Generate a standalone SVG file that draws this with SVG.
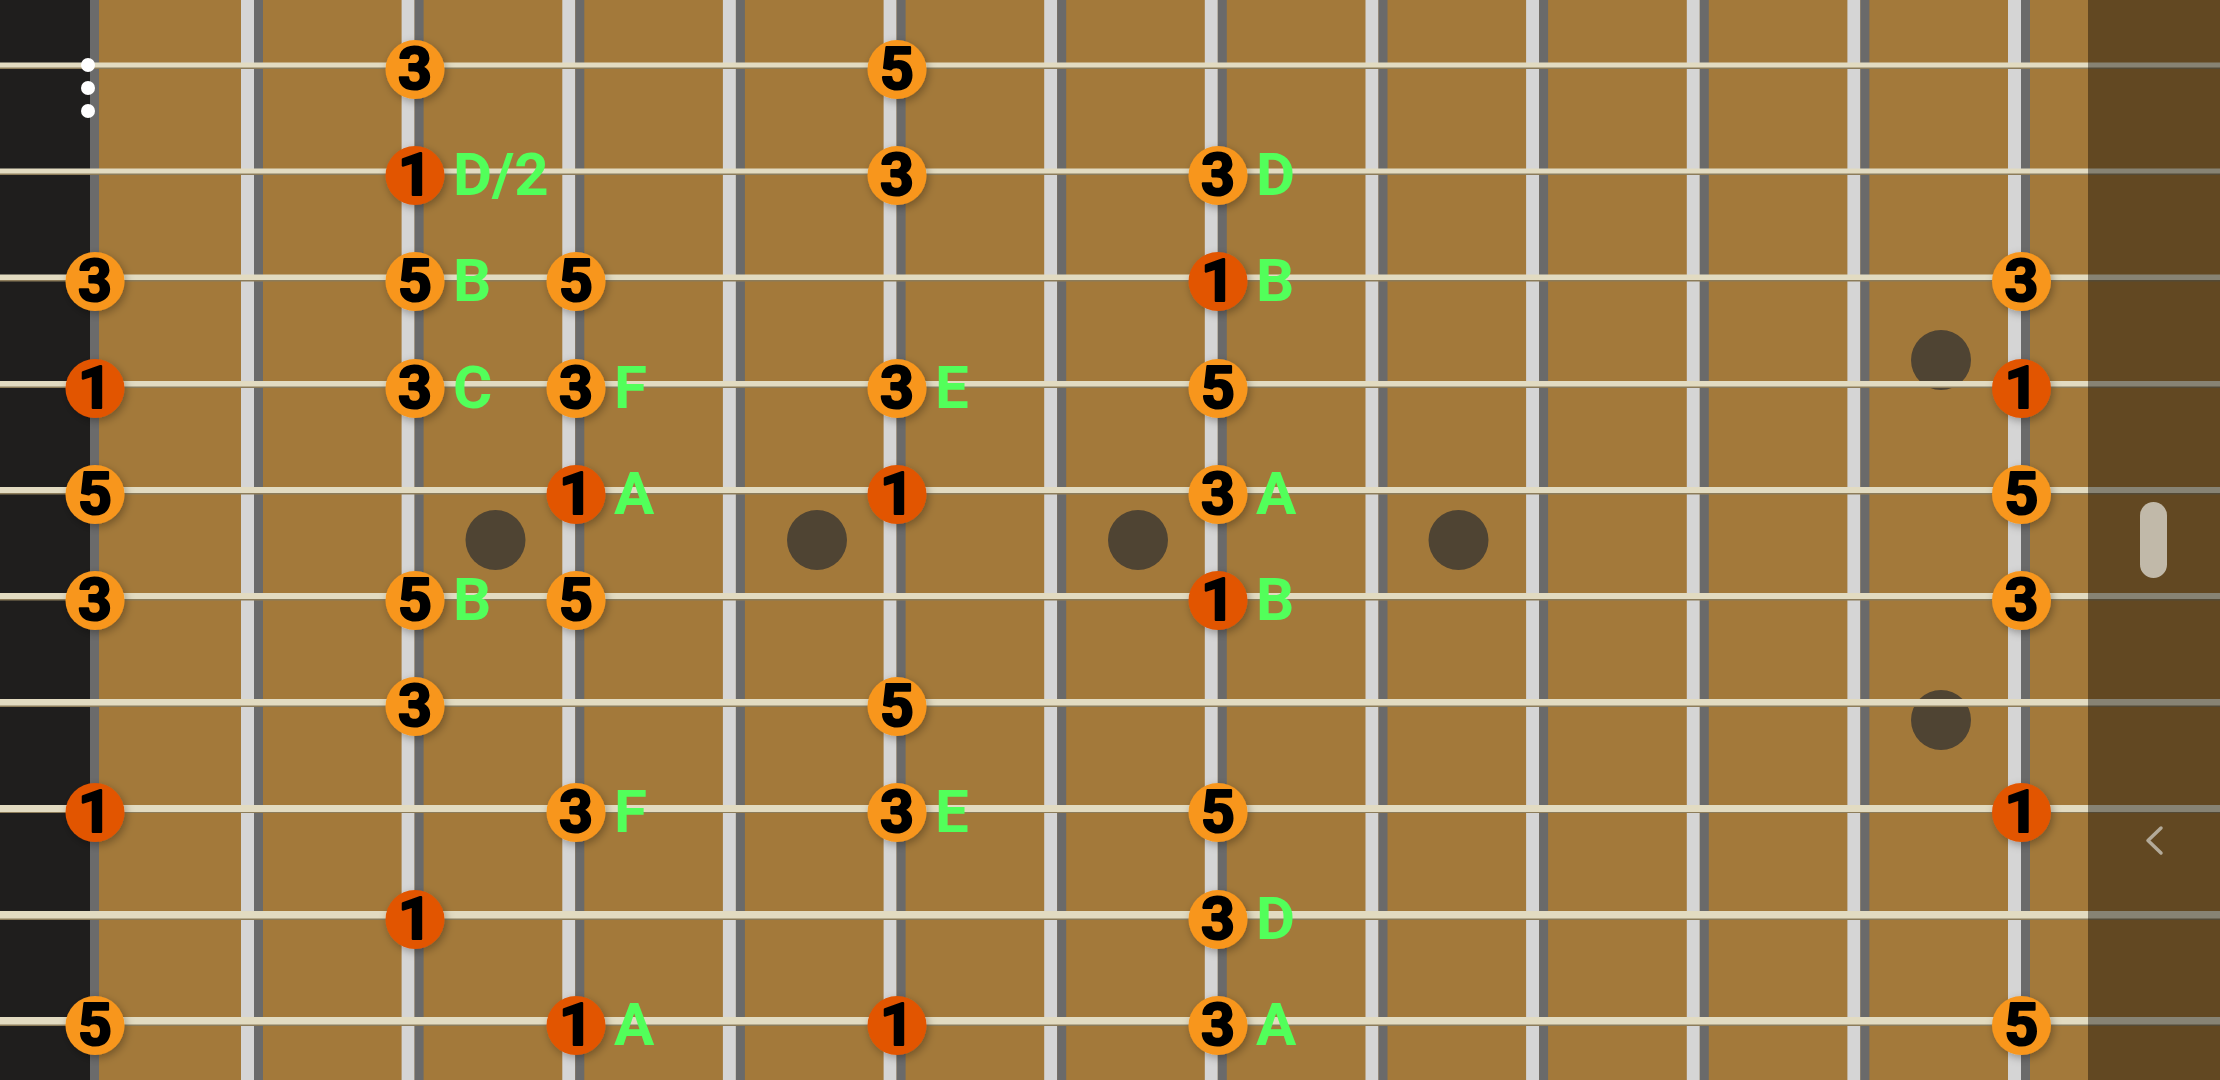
<svg xmlns="http://www.w3.org/2000/svg" width="2220" height="1080" viewBox="0 0 2220 1080">
<defs>
<style>
.board{fill:#a3793a}
.nut{fill:#1f1e1d}
.nutedge{fill:#6b6b6b}
.fl{fill:#d5d5d5}
.fd{fill:#6a6a6a}
.mark{fill:#4f4433}
.str{fill:#e2dbc1}
.strs{fill:#8c7c5a}
.o{fill:#f8961b;filter:url(#sh)}
.r{fill:#e25400;filter:url(#sh)}
.num{font-family:Roboto,"Liberation Sans",sans-serif;font-weight:700;font-size:59px;fill:#000;stroke:#000;stroke-width:2.2px;stroke-linejoin:round;text-anchor:middle}
.lbl{font-family:Roboto,"Liberation Sans",sans-serif;font-weight:700;font-size:60px;fill:#52ff5a}
.menu{fill:#ffffff}
</style>
<filter id="sh" x="-40%" y="-40%" width="180%" height="180%">
<feDropShadow dx="2" dy="3" stdDeviation="4" flood-color="#000" flood-opacity="0.3"/>
</filter>
</defs>

<g id="board">
<rect class="board" x="0" y="0" width="2220" height="1080"/>
<rect class="nut" x="0" y="0" width="90" height="1080"/>
<rect class="nutedge" x="90" y="0" width="9" height="1080"/>
</g>

<g id="frets">
<rect class="fl" x="241" y="0" width="13" height="1080"/><rect class="fd" x="254" y="0" width="9" height="1080"/>
<rect class="fl" x="401.6" y="0" width="13" height="1080"/><rect class="fd" x="414.6" y="0" width="9" height="1080"/>
<rect class="fl" x="562.3" y="0" width="13" height="1080"/><rect class="fd" x="575.3" y="0" width="9" height="1080"/>
<rect class="fl" x="722.9" y="0" width="13" height="1080"/><rect class="fd" x="735.9" y="0" width="9" height="1080"/>
<rect class="fl" x="883.6" y="0" width="13" height="1080"/><rect class="fd" x="896.6" y="0" width="9" height="1080"/>
<rect class="fl" x="1044.2" y="0" width="13" height="1080"/><rect class="fd" x="1057.2" y="0" width="9" height="1080"/>
<rect class="fl" x="1204.8" y="0" width="13" height="1080"/><rect class="fd" x="1217.8" y="0" width="9" height="1080"/>
<rect class="fl" x="1365.5" y="0" width="13" height="1080"/><rect class="fd" x="1378.5" y="0" width="9" height="1080"/>
<rect class="fl" x="1526.1" y="0" width="13" height="1080"/><rect class="fd" x="1539.1" y="0" width="9" height="1080"/>
<rect class="fl" x="1686.8" y="0" width="13" height="1080"/><rect class="fd" x="1699.8" y="0" width="9" height="1080"/>
<rect class="fl" x="1847.4" y="0" width="13" height="1080"/><rect class="fd" x="1860.4" y="0" width="9" height="1080"/>
<rect class="fl" x="2008" y="0" width="13" height="1080"/><rect class="fd" x="2021" y="0" width="9" height="1080"/>
</g>

<g id="markers">
<circle class="mark" cx="495.5" cy="540" r="30"/>
<circle class="mark" cx="817" cy="540" r="30"/>
<circle class="mark" cx="1138" cy="540" r="30"/>
<circle class="mark" cx="1458.5" cy="540" r="30"/>
<circle class="mark" cx="1941" cy="360" r="30"/>
<circle class="mark" cx="1941" cy="720" r="30"/>
</g>

<g id="strings">
<rect class="strs" x="0" y="63" width="2220" height="6"/><rect class="str" x="0" y="62.5" width="2220" height="5"/>
<rect class="strs" x="0" y="169" width="2220" height="6"/><rect class="str" x="0" y="168.5" width="2220" height="5"/>
<rect class="strs" x="0" y="275" width="2220" height="6.5"/><rect class="str" x="0" y="274.5" width="2220" height="5.5"/>
<rect class="strs" x="0" y="381.5" width="2220" height="6.5"/><rect class="str" x="0" y="381" width="2220" height="5.5"/>
<rect class="strs" x="0" y="487.5" width="2220" height="7"/><rect class="str" x="0" y="487" width="2220" height="6"/>
<rect class="strs" x="0" y="593.5" width="2220" height="7"/><rect class="str" x="0" y="593" width="2220" height="6"/>
<rect class="strs" x="0" y="699.5" width="2220" height="7.5"/><rect class="str" x="0" y="699" width="2220" height="6.5"/>
<rect class="strs" x="0" y="805" width="2220" height="8"/><rect class="str" x="0" y="805" width="2220" height="7"/>
<rect class="strs" x="0" y="911.5" width="2220" height="8.5"/><rect class="str" x="0" y="911" width="2220" height="7.5"/>
<rect class="strs" x="0" y="1017.5" width="2220" height="8.5"/><rect class="str" x="0" y="1017" width="2220" height="7.5"/>
</g>

<g id="menu">
<circle class="menu" cx="88" cy="65" r="7"/>
<circle class="menu" cx="88" cy="88" r="7"/>
<circle class="menu" cx="88" cy="111" r="7"/>
</g>

<g id="notes">
<g id="s1-f2" transform="translate(415,65)"><circle class="o" cx="0" cy="4.5" r="29.5"/><text class="num" x="0" y="24">3</text></g>
<g id="s1-f5" transform="translate(897,65)"><circle class="o" cx="0" cy="4.5" r="29.5"/><text class="num" x="0" y="24">5</text></g>

<g id="s2-f2" transform="translate(415,171)"><circle class="r" cx="0" cy="4.5" r="29.5"/><text class="num" x="0" y="24">1</text><text class="lbl" x="38" y="24">D/2</text></g>
<g id="s2-f5" transform="translate(897,171)"><circle class="o" cx="0" cy="4.5" r="29.5"/><text class="num" x="0" y="24">3</text></g>
<g id="s2-f7" transform="translate(1218,171)"><circle class="o" cx="0" cy="4.5" r="29.5"/><text class="num" x="0" y="24">3</text><text class="lbl" x="38" y="24">D</text></g>

<g id="s3-f0" transform="translate(95,277)"><circle class="o" cx="0" cy="4.5" r="29.5"/><text class="num" x="0" y="24">3</text></g>
<g id="s3-f2" transform="translate(415,277)"><circle class="o" cx="0" cy="4.5" r="29.5"/><text class="num" x="0" y="24">5</text><text class="lbl" x="38" y="24">B</text></g>
<g id="s3-f3" transform="translate(576,277)"><circle class="o" cx="0" cy="4.5" r="29.5"/><text class="num" x="0" y="24">5</text></g>
<g id="s3-f7" transform="translate(1218,277)"><circle class="r" cx="0" cy="4.5" r="29.5"/><text class="num" x="0" y="24">1</text><text class="lbl" x="38" y="24">B</text></g>
<g id="s3-f12" transform="translate(2021.5,277)"><circle class="o" cx="0" cy="4.5" r="29.5"/><text class="num" x="0" y="24">3</text></g>

<g id="s4-f0" transform="translate(95,384)"><circle class="r" cx="0" cy="4.5" r="29.5"/><text class="num" x="0" y="24">1</text></g>
<g id="s4-f2" transform="translate(415,384)"><circle class="o" cx="0" cy="4.5" r="29.5"/><text class="num" x="0" y="24">3</text><text class="lbl" x="38" y="24">C</text></g>
<g id="s4-f3" transform="translate(576,384)"><circle class="o" cx="0" cy="4.5" r="29.5"/><text class="num" x="0" y="24">3</text><text class="lbl" x="38" y="24">F</text></g>
<g id="s4-f5" transform="translate(897,384)"><circle class="o" cx="0" cy="4.5" r="29.5"/><text class="num" x="0" y="24">3</text><text class="lbl" x="38" y="24">E</text></g>
<g id="s4-f7" transform="translate(1218,384)"><circle class="o" cx="0" cy="4.5" r="29.5"/><text class="num" x="0" y="24">5</text></g>
<g id="s4-f12" transform="translate(2021.5,384)"><circle class="r" cx="0" cy="4.5" r="29.5"/><text class="num" x="0" y="24">1</text></g>

<g id="s5-f0" transform="translate(95,490)"><circle class="o" cx="0" cy="4.5" r="29.5"/><text class="num" x="0" y="24">5</text></g>
<g id="s5-f3" transform="translate(576,490)"><circle class="r" cx="0" cy="4.5" r="29.5"/><text class="num" x="0" y="24">1</text><text class="lbl" x="38" y="24">A</text></g>
<g id="s5-f5" transform="translate(897,490)"><circle class="r" cx="0" cy="4.5" r="29.5"/><text class="num" x="0" y="24">1</text></g>
<g id="s5-f7" transform="translate(1218,490)"><circle class="o" cx="0" cy="4.5" r="29.5"/><text class="num" x="0" y="24">3</text><text class="lbl" x="38" y="24">A</text></g>
<g id="s5-f12" transform="translate(2021.5,490)"><circle class="o" cx="0" cy="4.5" r="29.5"/><text class="num" x="0" y="24">5</text></g>

<g id="s6-f0" transform="translate(95,596)"><circle class="o" cx="0" cy="4.5" r="29.5"/><text class="num" x="0" y="24">3</text></g>
<g id="s6-f2" transform="translate(415,596)"><circle class="o" cx="0" cy="4.5" r="29.5"/><text class="num" x="0" y="24">5</text><text class="lbl" x="38" y="24">B</text></g>
<g id="s6-f3" transform="translate(576,596)"><circle class="o" cx="0" cy="4.5" r="29.5"/><text class="num" x="0" y="24">5</text></g>
<g id="s6-f7" transform="translate(1218,596)"><circle class="r" cx="0" cy="4.5" r="29.5"/><text class="num" x="0" y="24">1</text><text class="lbl" x="38" y="24">B</text></g>
<g id="s6-f12" transform="translate(2021.5,596)"><circle class="o" cx="0" cy="4.5" r="29.5"/><text class="num" x="0" y="24">3</text></g>

<g id="s7-f2" transform="translate(415,702)"><circle class="o" cx="0" cy="4.5" r="29.5"/><text class="num" x="0" y="24">3</text></g>
<g id="s7-f5" transform="translate(897,702)"><circle class="o" cx="0" cy="4.5" r="29.5"/><text class="num" x="0" y="24">5</text></g>

<g id="s8-f0" transform="translate(95,808)"><circle class="r" cx="0" cy="4.5" r="29.5"/><text class="num" x="0" y="24">1</text></g>
<g id="s8-f3" transform="translate(576,808)"><circle class="o" cx="0" cy="4.5" r="29.5"/><text class="num" x="0" y="24">3</text><text class="lbl" x="38" y="24">F</text></g>
<g id="s8-f5" transform="translate(897,808)"><circle class="o" cx="0" cy="4.5" r="29.5"/><text class="num" x="0" y="24">3</text><text class="lbl" x="38" y="24">E</text></g>
<g id="s8-f7" transform="translate(1218,808)"><circle class="o" cx="0" cy="4.5" r="29.5"/><text class="num" x="0" y="24">5</text></g>
<g id="s8-f12" transform="translate(2021.5,808)"><circle class="r" cx="0" cy="4.5" r="29.5"/><text class="num" x="0" y="24">1</text></g>

<g id="s9-f2" transform="translate(415,915)"><circle class="r" cx="0" cy="4.5" r="29.5"/><text class="num" x="0" y="24">1</text></g>
<g id="s9-f7" transform="translate(1218,915)"><circle class="o" cx="0" cy="4.5" r="29.5"/><text class="num" x="0" y="24">3</text><text class="lbl" x="38" y="24">D</text></g>

<g id="s10-f0" transform="translate(95,1021)"><circle class="o" cx="0" cy="4.5" r="29.5"/><text class="num" x="0" y="24">5</text></g>
<g id="s10-f3" transform="translate(576,1021)"><circle class="r" cx="0" cy="4.5" r="29.5"/><text class="num" x="0" y="24">1</text><text class="lbl" x="38" y="24">A</text></g>
<g id="s10-f5" transform="translate(897,1021)"><circle class="r" cx="0" cy="4.5" r="29.5"/><text class="num" x="0" y="24">1</text></g>
<g id="s10-f7" transform="translate(1218,1021)"><circle class="o" cx="0" cy="4.5" r="29.5"/><text class="num" x="0" y="24">3</text><text class="lbl" x="38" y="24">A</text></g>
<g id="s10-f12" transform="translate(2021.5,1021)"><circle class="o" cx="0" cy="4.5" r="29.5"/><text class="num" x="0" y="24">5</text></g>
</g>

<g id="side-panel">
<rect x="2088" y="0" width="132" height="1080" fill="#000" fill-opacity="0.4"/>
<rect x="2140" y="502" width="27" height="76" rx="13.5" fill="#c1b9a9"/>
<polyline points="2161,828 2148,840.5 2161,853" fill="none" stroke="#b3aa99" stroke-width="3.5" stroke-linecap="round" stroke-linejoin="round"/>
</g>
</svg>
